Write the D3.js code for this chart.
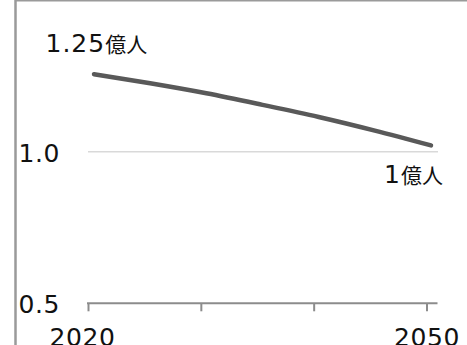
<!DOCTYPE html>
<html>
<head>
<meta charset="utf-8">
<script src="https://cdn.jsdelivr.net/npm/d3@7"></script>
<style>
html,body{margin:0;padding:0;background:#fff;}
svg{display:block;}
</style>
</head>
<body>
<svg id="chart" width="467" height="345"></svg>
<script>
const years = [2020, 2025, 2030, 2035, 2040, 2045, 2050];
const population = [1.256, 1.226, 1.193, 1.155, 1.115, 1.070, 1.021]; // 億人
const axisYears = [2020, 2030, 2040, 2050];
const xTickLabels = ["2020", "", "", "2050"];
const yTickValues = [0.5, 1.0];
const yTickLabels = ["0.5", "1.0"];
const startLabel = ["1.25", "億人"];
const endLabel = ["1", "億人"];

const svg = d3.select("#chart");
const W = 467, H = 345;
const latin = "'DejaVu Sans', Verdana, sans-serif";
const cjk = "'Noto Sans CJK JP', sans-serif";

const x = d3.scaleLinear().domain([2020, 2050]).range([88, 426.5]);
const xLine = d3.scaleLinear().domain([2020, 2050]).range([94, 431]);
const y = d3.scaleLinear().domain([0.5, 1.0]).range([303.3, 151.8]);

// frame: top and left borders
svg.append("line").attr("x1", 15.5).attr("x2", W).attr("y1", 0.5).attr("y2", 0.5)
  .attr("stroke", "#9a9a9a").attr("stroke-width", 2);
svg.append("line").attr("x1", 15.5).attr("x2", 15.5).attr("y1", 0).attr("y2", H)
  .attr("stroke", "#9a9a9a").attr("stroke-width", 2.5);

// gridline at 1.0
svg.append("line")
  .attr("x1", x(2020)).attr("x2", 438)
  .attr("y1", y(1.0)).attr("y2", y(1.0))
  .attr("stroke", "#d9d9d9").attr("stroke-width", 1.5);

// x axis
const xAxis = d3.axisBottom(x)
  .tickValues(axisYears)
  .tickSize(8)
  .tickSizeOuter(0)
  .tickFormat((d, i) => xTickLabels[i]);
const gx = svg.append("g").attr("transform", `translate(0,${y(0.5)})`).call(xAxis);
gx.select(".domain").remove();
gx.append("line").attr("x1", x(2020) - 1).attr("x2", 437.5).attr("y1", 0).attr("y2", 0)
  .attr("stroke", "#8c8c8c").attr("stroke-width", 2);
gx.selectAll(".tick line").attr("stroke", "#8c8c8c").attr("stroke-width", 2);
gx.selectAll(".tick text")
  .attr("font-family", latin).attr("font-size", 25).attr("fill", "#111")
  .attr("letter-spacing", 0.6)
  .attr("y", 0).attr("dy", 0)
  .attr("transform", "translate(0,43)")
  .attr("dx", (d, i) => i === 0 ? -6 : 0);

// y tick labels
svg.append("g").selectAll("text").data(yTickValues).join("text")
  .attr("x", 18.5)
  .attr("y", d => y(d) + 10)
  .attr("font-family", latin).attr("font-size", 25).attr("fill", "#111")
  .attr("letter-spacing", 0.6)
  .text((d, i) => yTickLabels[i]);

// line
const line = d3.line()
  .x((d, i) => xLine(years[i]))
  .y(d => y(d))
  .curve(d3.curveMonotoneX);
svg.append("path").datum(population)
  .attr("d", line)
  .attr("fill", "none")
  .attr("stroke", "#595959")
  .attr("stroke-width", 4.5)
  .attr("stroke-linecap", "round");

// value labels
function label(parts, tx, ty) {
  const t = svg.append("text").attr("x", tx).attr("y", ty).attr("fill", "#111");
  t.append("tspan").attr("font-family", latin).attr("font-size", 25)
    .attr("letter-spacing", 1).text(parts[0]);
  t.append("tspan").attr("font-family", cjk).attr("font-size", 21).text(parts[1]);
}
label(startLabel, 45.5, 51.8);
label(endLabel, 384, 183.3);
</script>
</body>
</html>
